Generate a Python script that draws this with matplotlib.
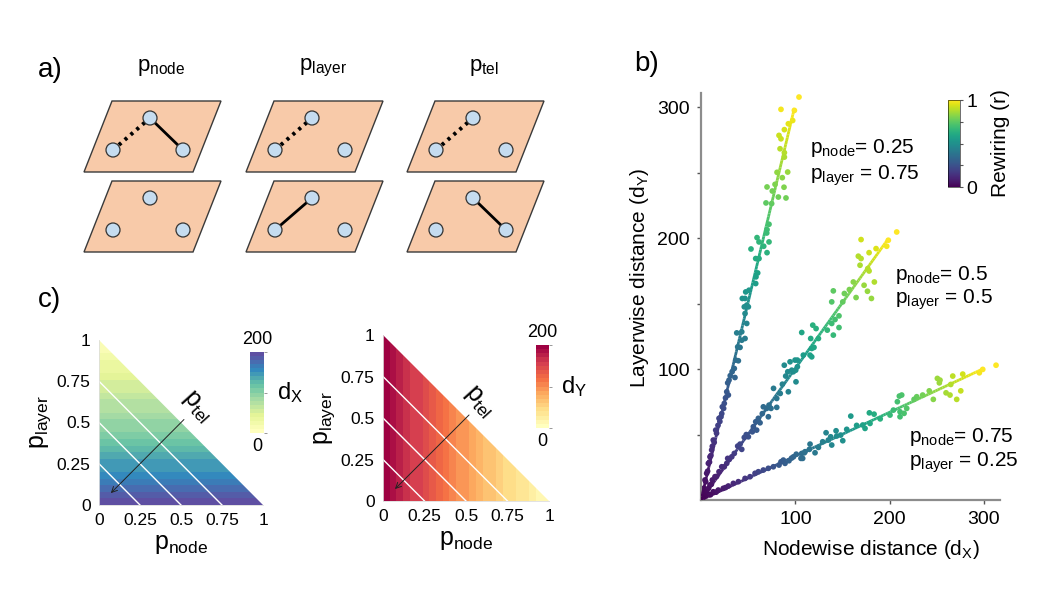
import numpy as np
import matplotlib
matplotlib.use("Agg")
import matplotlib.pyplot as plt
from matplotlib.patches import Polygon, Circle
from matplotlib.collections import LineCollection
from matplotlib.colors import ListedColormap, Normalize

plt.rcParams['font.family'] = ['Liberation Sans', 'DejaVu Sans']
plt.rcParams['mathtext.fontset'] = 'custom'
plt.rcParams['mathtext.rm'] = 'Liberation Sans'
plt.rcParams['mathtext.it'] = 'Liberation Sans:italic'
plt.rcParams['mathtext.bf'] = 'Liberation Sans:bold'

# ---------------- data ----------------
# panel b: (nodewise distance, layerwise distance) per realisation
s1_dx = [103.9, 99, 84.8, 97.2, 92.6, 88.4, 82.7, 84.8, 83.8, 88.4, 88.4, 80.6, 91.9, 86.2, 78.5, 88, 70, 75.6, 82, 90.1,
         68.9, 74.9, 72.1, 70, 69.7, 59.4, 72.1, 61.5, 66.5, 53, 70, 58, 61.5, 60.1, 58.3, 58, 47.4, 50.9, 43.8, 46.7,
         48.5, 50.2, 45.9, 46.7, 48.5, 37.9, 43.2, 46.7, 43.2, 38.9, 41.4, 36.8, 39.6, 35.3, 29.7, 28.3, 36, 27.3, 29,
         24.7, 22.6, 21.2, 19.1, 15.6, 13, 11.3, 9.5, 7.8, 6, 4.2, 2.5, 1, 2, 3, 5, 7, 9, 10.5, 12, 14, 16.5, 18, 20,
         22, 24, 26, 31, 33]
s1_dy = [307.9, 297.7, 298.5, 290, 287.5, 283, 278.6, 276, 268.4, 265.4, 262, 250.4, 250.6, 246.3, 241.2, 239, 239.2,
         236.1, 231.5, 230.8, 227, 226.5, 210.7, 206.6, 204, 200.5, 197.2, 197.2, 193.9, 191.8, 189, 184.5, 184.5,
         173.5, 170.5, 165.4, 159, 160.3, 154, 154, 148.9, 147.6, 147.6, 142.5, 134.9, 127.7, 128.5, 123.4, 122.1, 117,
         116.6, 106.9, 106.4, 100.5, 91.6, 89.5, 93.6, 82.7, 80.2, 73.8, 71.2, 63.6, 62.4, 53.4, 45.8, 38.2, 33, 28,
         20.4, 15.3, 7.6, 3, 5, 9, 14, 22, 29, 34, 41, 44, 51, 57, 60, 66, 70, 78, 95, 98]

s2_dx = [207.5, 169.7, 198.6, 196.9, 185.6, 178.2, 166.8, 169.7, 168.6, 176.8, 178.2, 161.5, 183.8, 172.9, 157.3, 152,
         176.5, 180.7, 164.4, 140.3, 138.6, 150.3, 146.3, 142.1, 138.6, 146.3, 140.3, 133.9, 118.5, 122, 106.8, 116.3,
         124.5, 117.4, 119.8, 115.6, 117.4, 108.5, 102.2, 94.4, 102.2, 97.9, 100.7, 88.3, 99.7, 100.4, 96.2, 92, 89.8,
         86.3, 92.6, 84, 76.9, 80.3, 72.1, 69.7, 74.2, 80.3, 71.4, 66.1, 60.8, 58, 62.6, 55.5, 59, 54.4, 50.2, 45.9,
         41.4, 38.9, 43.2, 35.3, 32.6, 28.3, 27.3, 24.7, 22, 19.1, 14.8, 12, 9.5, 6, 3.5, 1.5, 4.5, 8, 11, 16.5, 30,
         48, 65]
s2_dy = [204.8, 199, 198.5, 193.9, 192.1, 189, 186.3, 184.5, 179.4, 176.8, 175, 166.6, 166.6, 164.1, 160.8, 157.8,
         159.5, 154, 154.7, 159.8, 151.4, 151.4, 140.7, 137.9, 134.9, 131.8, 126, 129.8, 133.6, 131, 128, 123.4, 123.4,
         115.8, 116.6, 110.7, 109.4, 110.7, 106.9, 105.6, 101.8, 98, 90.3, 103, 106.9, 99.2, 99.2, 98, 94.7, 88.5,
         82.7, 81.4, 85.3, 77.6, 72.5, 70, 70, 70.8, 63.6, 71.2, 62.4, 59.8, 59, 56, 53.4, 52.1, 48.3, 47.8, 42.7,
         41.2, 38.7, 35.6, 33, 31.8, 28, 25.4, 25.4, 21.6, 17.8, 15.3, 11.5, 7.6, 5.1, 2, 5.5, 9, 12, 18, 31, 50, 66]

s3_dx = [312.8, 298.7, 295.1, 277.5, 266.9, 250.6, 253.4, 252.7, 264.8, 275.4, 259.8, 264, 271.1, 246.3, 242, 235,
         228.7, 225.9, 212.8, 208.2, 204, 211, 215.3, 218.1, 211, 200.4, 210.3, 183.5, 178.5, 179.2, 173.9, 171.5,
         158.8, 154.5, 148.1, 150.3, 143.9, 143.2, 138.6, 137.5, 135, 132.6, 129, 124.5, 120.9, 114.9, 115.6, 110.3,
         107.8, 106.8, 109.6, 106, 87.3, 84.8, 89.1, 82.7, 93.3, 76.7, 71.4, 66.1, 60.8, 57.3, 52, 46.7, 39.6, 34.3,
         29, 23.6, 18.3, 13, 7.8, 4.2, 190, 165, 98, 101, 2, 10, 16, 26, 96]
s3_dy = [103, 99.8, 97.2, 96.2, 94.7, 92.9, 91.6, 89.5, 88.3, 83.4, 81.9, 80.2, 76.9, 76.9, 83.4, 80.2, 78.9, 76.9,
         80.2, 75.1, 68.7, 67.4, 66.2, 70, 63.6, 64.9, 79.4, 65.6, 66.6, 58.5, 54.7, 57.3, 64.1, 54, 49.6, 45.3, 48.9,
         52.9, 42, 48.3, 45.8, 51.4, 44.5, 40.2, 36.1, 38.7, 42.7, 36.9, 31.8, 35.6, 36.1, 31.8, 30.5, 29.2, 28, 26.7,
         30, 25.4, 24.2, 22.9, 21.6, 20.4, 17.8, 16.5, 14, 12.7, 10.7, 8.9, 7.6, 6.3, 4.6, 3.1, 62, 57, 33, 35, 1, 4,
         6, 9.5, 32]

series_labels = [(r'$\mathrm{p_{node}}$= 0.25', r'$\mathrm{p_{layer}}$ = 0.75'),
                 (r'$\mathrm{p_{node}}$= 0.5', r'$\mathrm{p_{layer}}$ = 0.5'),
                 (r'$\mathrm{p_{node}}$= 0.75', r'$\mathrm{p_{layer}}$ = 0.25')]

# panel c: band values (25 bands from p = 0 to 1)
dX_bands = [196, 186, 176, 167, 158, 149, 140, 131, 123, 115, 107, 99, 92, 85, 78, 71, 64, 57, 50, 44, 38, 31, 25, 19, 13]
dY_bands = [198, 188, 178, 168, 159, 150, 141, 132, 123, 115, 107, 99, 91, 83, 76, 69, 62, 55, 48, 42, 36, 30, 24, 18, 12]
p_ticks = [0, 0.25, 0.5, 0.75, 1]
p_ticklabels = ['0', '0.25', '0.5', '0.75', '1']
tel_levels = [0.25, 0.5, 0.75]

# ---------------- figure ----------------
W, H = 1047, 596
fig = plt.figure(figsize=(W / 100, H / 100), dpi=100)


def fr(x0, y0, x1, y1):
    return [x0 / W, 1 - y1 / H, (x1 - x0) / W, (y1 - y0) / H]


# overlay for schematic + panel letters
ax0 = fig.add_axes([0, 0, 1, 1])
ax0.set_xlim(0, W)
ax0.set_ylim(H, 0)
ax0.axis('off')
ax0.patch.set_alpha(0)

ax0.text(38, 70, 'a)', fontsize=20, ha='left', va='center')
ax0.text(38, 300, 'c)', fontsize=20, ha='left', va='center')
ax0.text(634, 64, 'b)', fontsize=20, ha='left', va='center')

# schematic panel a
plane = np.array([(84, 172), (193, 172), (221, 101), (112, 101)], float)
nodes = {'T': (150, 118), 'L': (113, 150), 'R': (183, 150)}
layer_gap = 80
offsets = [0, 162, 323]
titles = [r'$\mathrm{p_{node}}$', r'$\mathrm{p_{layer}}$', r'$\mathrm{p_{tel}}$']
top_solid = [('T', 'R'), None, None]
bot_solid = [None, ('L', 'T'), ('T', 'R')]
for k, off in enumerate(offsets):
    ax0.text(161 + off, 68, titles[k], fontsize=16, ha='center', va='center')
    for li in range(2):
        dy = li * layer_gap
        pg = Polygon(plane + np.array([off, dy]), closed=True, facecolor='#f8caa9',
                     edgecolor='#3a3a3a', lw=1.0, zorder=1)
        ax0.add_patch(pg)
        pts = {n: (p[0] + off, p[1] + dy) for n, p in nodes.items()}
        if li == 0:
            a, b = pts['L'], pts['T']
            ax0.plot([a[0], b[0]], [a[1], b[1]], color='black', lw=2.8,
                     linestyle=(0, (0.8, 1.2)), zorder=2)
            if top_solid[k]:
                a, b = pts[top_solid[k][0]], pts[top_solid[k][1]]
                ax0.plot([a[0], b[0]], [a[1], b[1]], color='black', lw=2.0, zorder=2)
        else:
            if bot_solid[k]:
                a, b = pts[bot_solid[k][0]], pts[bot_solid[k][1]]
                ax0.plot([a[0], b[0]], [a[1], b[1]], color='black', lw=2.0, zorder=2)
        for p in pts.values():
            ax0.add_patch(Circle(p, 7, facecolor='#c5dcf0', edgecolor='#333333', lw=0.9, zorder=3))

# ---------------- panel b ----------------
axb = fig.add_axes(fr(701, 93, 1000, 500))
cmap_b = plt.get_cmap('viridis')
series = [(s1_dx, s1_dy), (s2_dx, s2_dy), (s3_dx, s3_dy)]
for xs, ys in series:
    x = np.asarray(xs, float)
    y = np.asarray(ys, float)
    k = np.sum(x * y) / np.sum(x * x)
    u = np.array([1.0, k]) / np.hypot(1.0, k)
    proj = x * u[0] + y * u[1]
    x_end = np.sort(x)[-2]
    end_proj = np.hypot(x_end, k * x_end)
    r = np.clip(proj / end_proj, 0, 1)
    axb.scatter(x, y, c=r, cmap=cmap_b, vmin=0, vmax=1, s=17, linewidths=0, zorder=2)
    lx = np.linspace(0, x_end, 120)
    ly = k * lx
    segs = np.stack([np.column_stack([lx[:-1], ly[:-1]]), np.column_stack([lx[1:], ly[1:]])], axis=1)
    lc = LineCollection(segs, colors=cmap_b(np.linspace(0, 1, len(segs))), linewidths=2.0, zorder=3)
    axb.add_collection(lc)

axb.set_xlim(0, 317)
axb.set_ylim(0, 311)
for sp in ['top', 'right']:
    axb.spines[sp].set_visible(False)
for sp in ['left', 'bottom']:
    axb.spines[sp].set_color('#8c8c8c')
    axb.spines[sp].set_linewidth(1.6)
axb.set_xticks([100, 200, 300])
axb.set_xticklabels(['100', '200', '300'])
axb.set_yticks([50, 100, 150, 200, 250, 300])
axb.set_yticklabels(['', '100', '', '200', '', '300'])
axb.tick_params(color='#555555', length=3, width=1, labelsize=14, pad=5)
axb.set_xlabel(r'Nodewise distance ($\mathrm{d_X}$)', fontsize=15)
axb.set_ylabel(r'Layerwise distance ($\mathrm{d_Y}$)', fontsize=15)
axb.xaxis.set_label_coords(0.569, -0.094)
axb.yaxis.set_label_coords(-0.167, 0.545)

ann_pos = [(115.6, 268.7, 248.0), (205.7, 171.8, 152.7), (220.6, 48.1, 28.2)]
for (l1, l2), (tx, ty1, ty2) in zip(series_labels, ann_pos):
    axb.text(tx, ty1, l1, fontsize=15, ha='left', va='center')
    axb.text(tx, ty2, l2, fontsize=15, ha='left', va='center')

caxb = fig.add_axes(fr(948, 100, 960, 187))
cbb = fig.colorbar(plt.cm.ScalarMappable(norm=Normalize(0, 1), cmap=cmap_b), cax=caxb)
cbb.set_ticks([0, 0.25, 0.5, 0.75, 1])
cbb.set_ticklabels(['0', '', '', '', '1'])
cbb.outline.set_linewidth(0.4)
caxb.tick_params(length=2.5, width=0.8, color='#555555', labelsize=14, pad=2)
cbb.set_label('Rewiring (r)', fontsize=15, labelpad=10)

# ---------------- panel c ----------------
edges = np.linspace(0, 1, len(dX_bands) + 1)
cm_x = ListedColormap(plt.get_cmap('Spectral')(np.linspace(0.5, 1.0, 20)))
cm_y = ListedColormap(plt.get_cmap('Spectral')(np.linspace(0.5, 0.0, 20)))


def tri_panel(rect, Z, cmap, crect, clabel, tel_xy):
    ax = fig.add_axes(rect)
    mesh = ax.pcolormesh(edges, edges, Z, cmap=cmap, vmin=0, vmax=200, shading='flat')
    tri = Polygon([(0, 0), (1, 0), (0, 1)], closed=True, transform=ax.transData)
    mesh.set_clip_path(tri)
    for c in tel_levels:
        ax.plot([0, c], [c, 0], color='white', lw=1.0)
    ax.annotate('', xy=(0.06, 0.06), xytext=(0.53, 0.53),
                arrowprops=dict(arrowstyle='->', color='#222222', lw=0.7, mutation_scale=10))
    ax.text(tel_xy[0], tel_xy[1], r'$\mathrm{p_{tel}}$', rotation=-48, fontsize=18,
            ha='center', va='center')
    ax.set_xlim(0, 1)
    ax.set_ylim(0, 1)
    for sp in ['top', 'right']:
        ax.spines[sp].set_visible(False)
    for sp in ['left', 'bottom']:
        ax.spines[sp].set_color('#dddddd')
        ax.spines[sp].set_linewidth(0.6)
    ax.set_xticks(p_ticks)
    ax.set_xticklabels(p_ticklabels)
    ax.set_yticks(p_ticks)
    ax.set_yticklabels(p_ticklabels)
    ax.tick_params(length=0, labelsize=12.5, pad=6)
    ax.set_xlabel(r'$\mathrm{p_{node}}$', fontsize=18, labelpad=3)
    ax.set_ylabel(r'$\mathrm{p_{layer}}$', fontsize=18, labelpad=3)
    cax = fig.add_axes(crect)
    cb = fig.colorbar(mesh, cax=cax)
    cb.set_ticks([0, 100, 200])
    cb.set_ticklabels(['', '', ''])
    cb.outline.set_linewidth(0)
    cax.tick_params(length=2, width=0.6, color='#888888')
    cax.text(0.5, 1.05, '200', transform=cax.transAxes, ha='center', va='bottom', fontsize=13)
    cax.text(0.5, -0.06, '0', transform=cax.transAxes, ha='center', va='top', fontsize=13)
    cax.text(1.9, 0.5, clabel, transform=cax.transAxes, ha='left', va='center', fontsize=17)
    return ax


ZX = np.repeat(np.asarray(dX_bands, float)[:, None], len(dX_bands), axis=1)   # varies with p_layer
ZY = np.repeat(np.asarray(dY_bands, float)[None, :], len(dY_bands), axis=0)   # varies with p_node
tri_panel(fr(99, 340, 263, 505), ZX, cm_x, fr(250, 352, 264, 433), r'$\mathrm{d_X}$', (0.6, 0.6))
tri_panel(fr(383, 335, 549, 501), ZY, cm_y, fr(536, 345, 549, 428), r'$\mathrm{d_Y}$', (0.58, 0.6))

fig.savefig('out.png', dpi=100)
